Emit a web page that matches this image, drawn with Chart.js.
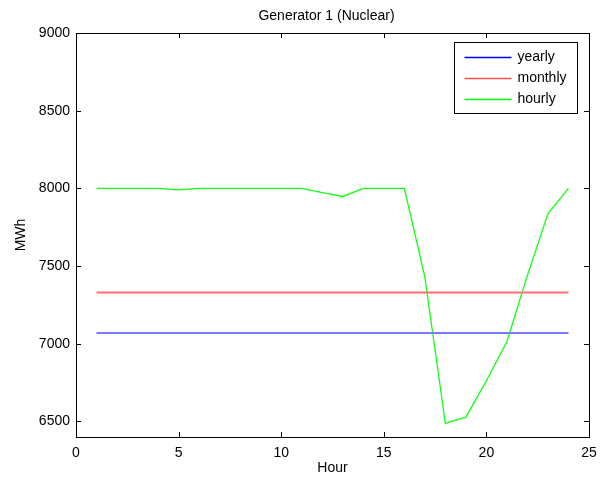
<!DOCTYPE html>
<html>
<head>
<meta charset="utf-8">
<script src="https://cdn.jsdelivr.net/npm/chart.js@4"></script>
<style>
html, body { margin: 0; padding: 0; background: #fff; }
#wrap { width: 606px; height: 483px; }
</style>
</head>
<body>
<div id="wrap"><canvas id="genChart" width="606" height="483"></canvas></div>
<script>
// data
const hours   = [1, 2, 3, 4, 5, 6, 7, 8, 9, 10, 11, 12, 13, 14, 15, 16, 17, 18, 19, 20, 21, 22, 23, 24];
const yearly  = [7070, 7070, 7070, 7070, 7070, 7070, 7070, 7070, 7070, 7070, 7070, 7070,
                 7070, 7070, 7070, 7070, 7070, 7070, 7070, 7070, 7070, 7070, 7070, 7070];
const monthly = [7330, 7330, 7330, 7330, 7330, 7330, 7330, 7330, 7330, 7330, 7330, 7330,
                 7330, 7330, 7330, 7330, 7330, 7330, 7330, 7330, 7330, 7330, 7330, 7330];
const hourly  = [8000, 8000, 8000, 8000, 7990, 8000, 8000, 8000, 8000, 8000, 8000, 7972,
                 7948, 8000, 8000, 8000, 7430, 6487, 6528, 6762, 7015, 7440, 7838, 8000];
const xTicks = [0, 5, 10, 15, 20, 25];
const yTicks = [6500, 7000, 7500, 8000, 8500, 9000];
const chartTitle = 'Generator 1 (Nuclear)';

const FONT = "'Liberation Sans', Arial, sans-serif";

function pts(arr) { return hours.map((h, i) => ({ x: h, y: arr[i] })); }

// title over the plot area (matlab style, sits a bit left of centre)
const plotTitle = {
    id: 'plotTitle',
    afterDraw(chart) {
        const { ctx, chartArea: a } = chart;
        ctx.save();
        ctx.font = '14px ' + FONT;
        ctx.fillStyle = '#000';
        ctx.textAlign = 'center';
        ctx.textBaseline = 'middle';
        ctx.fillText(chartTitle, (a.left + a.right) / 2 - 6, a.top - 17);
        ctx.restore();
    }
};

// frame with inward ticks on all four sides
const frameTicks = {
    id: 'frameTicks',
    afterDraw(chart) {
        const { ctx, chartArea: a, scales } = chart;
        const len = 5;
        ctx.save();
        ctx.strokeStyle = '#000';
        ctx.lineWidth = 1;
        ctx.beginPath();
        xTicks.forEach(v => {
            const px = Math.round(scales.x.getPixelForValue(v)) + 0.5;
            ctx.moveTo(px, a.bottom); ctx.lineTo(px, a.bottom - len);
            ctx.moveTo(px, a.top); ctx.lineTo(px, a.top + len);
        });
        yTicks.forEach(v => {
            const py = Math.round(scales.y.getPixelForValue(v)) + 0.5;
            ctx.moveTo(a.left, py); ctx.lineTo(a.left + len, py);
            ctx.moveTo(a.right, py); ctx.lineTo(a.right - len, py);
        });
        ctx.stroke();
        ctx.strokeRect(Math.round(a.left) + 0.5, Math.round(a.top) + 0.5,
            Math.round(a.right - a.left), Math.round(a.bottom - a.top));
        ctx.restore();
    }
};

// boxed legend inside the plot, top right
const boxLegend = {
    id: 'boxLegend',
    afterDraw(chart) {
        const { ctx, chartArea: a } = chart;
        const w = 123, h = 71;
        const x0 = Math.round(a.right - 12 - w) + 0.5;
        const y0 = Math.round(a.top + 9) + 0.5;
        ctx.save();
        ctx.fillStyle = '#fff';
        ctx.fillRect(x0, y0, w, h);
        ctx.strokeStyle = '#000';
        ctx.lineWidth = 1;
        ctx.strokeRect(x0, y0, w, h);
        ctx.font = '14px ' + FONT;
        ctx.textBaseline = 'middle';
        chart.data.datasets.forEach((ds, i) => {
            const yy = Math.round(y0 + 14.5 + i * 21) + 0.5;
            ctx.strokeStyle = ds.legendColor;
            ctx.lineWidth = 1.5;
            ctx.beginPath();
            ctx.moveTo(x0 + 10, yy);
            ctx.lineTo(x0 + 57, yy);
            ctx.stroke();
            ctx.fillStyle = '#000';
            ctx.fillText(ds.label, x0 + 63, yy);
        });
        ctx.restore();
    }
};

new Chart(document.getElementById('genChart').getContext('2d'), {
    type: 'line',
    data: {
        datasets: [
            { label: 'yearly', data: pts(yearly), borderColor: '#7a7aff', legendColor: '#0000ff', borderWidth: 2, pointRadius: 0, tension: 0 },
            { label: 'monthly', data: pts(monthly), borderColor: '#ff7070', legendColor: '#ff5050', borderWidth: 2, pointRadius: 0, tension: 0 },
            { label: 'hourly', data: pts(hourly), borderColor: '#11ff11', legendColor: '#00ff00', borderWidth: 1.3, pointRadius: 0, tension: 0 }
        ]
    },
    options: {
        responsive: false,
        animation: false,
        devicePixelRatio: 1,
        layout: { padding: { left: 0, right: 17, top: 33, bottom: 0 } },
        plugins: {
            legend: { display: false },
            tooltip: { enabled: false },
            title: { display: false }
        },
        scales: {
            x: {
                type: 'linear',
                min: 0, max: 25,
                afterBuildTicks: s => { s.ticks = xTicks.map(v => ({ value: v })); },
                afterFit: s => { s.height = 46; },
                grid: { display: false, drawTicks: false },
                border: { display: false },
                ticks: { color: '#000', padding: 8, maxRotation: 0, font: { family: FONT, size: 14 }, callback: v => String(v) },
                title: { display: true, text: 'Hour', color: '#000', font: { family: FONT, size: 14 }, padding: { top: 0, bottom: 6.6 } }
            },
            y: {
                type: 'linear',
                min: 6400, max: 9000,
                afterBuildTicks: s => { s.ticks = yTicks.map(v => ({ value: v })); },
                afterFit: s => { s.width = 76; },
                grid: { display: false, drawTicks: false },
                border: { display: false },
                ticks: { color: '#000', padding: 6, font: { family: FONT, size: 14 }, callback: v => String(v) },
                title: { display: true, text: 'MWh', color: '#000', font: { family: FONT, size: 14 }, padding: { top: 12.6, bottom: 0 } }
            }
        }
    },
    plugins: [plotTitle, frameTicks, boxLegend]
});
</script>
</body>
</html>
